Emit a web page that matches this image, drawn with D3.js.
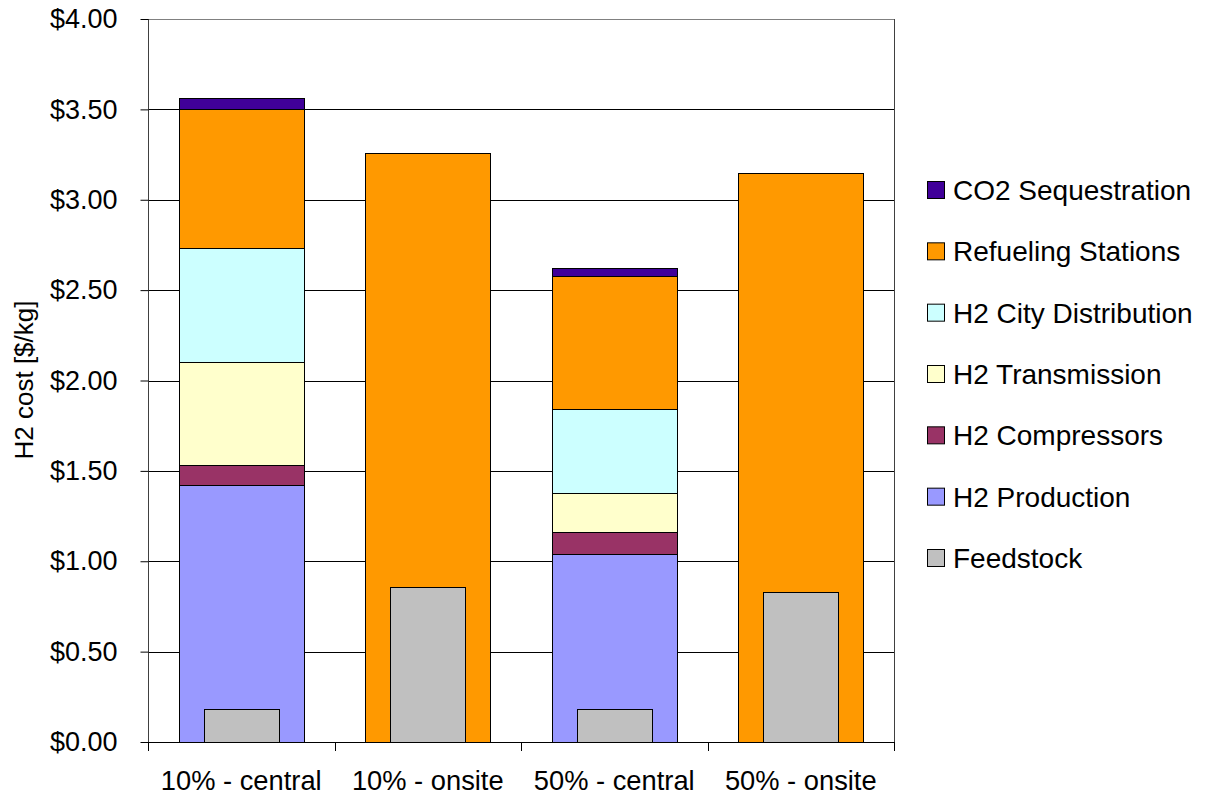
<!DOCTYPE html>
<html>
<head>
<meta charset="utf-8">
<script src="https://cdn.jsdelivr.net/npm/d3@7"></script>
<style>
  html, body { margin: 0; padding: 0; background: #fff; }
  svg { display: block; }
  text { font-family: "Liberation Sans", Arial, sans-serif; fill: #000; }
</style>
</head>
<body>
<svg id="chart" width="1209" height="797"></svg>
<script>
// ---- data ----
const categories = ["10% - central", "10% - onsite", "50% - central", "50% - onsite"];
const seriesNames = ["H2 Production", "H2 Compressors", "H2 Transmission", "H2 City Distribution", "Refueling Stations", "CO2 Sequestration"];
const h2Production      = [1.42, 0, 1.04, 0];
const h2Compressors     = [0.11, 0, 0.12, 0];
const h2Transmission    = [0.57, 0, 0.22, 0];
const h2CityDistribution= [0.635, 0, 0.46, 0];
const refuelingStations = [0.765, 3.258, 0.74, 3.147];
const co2Sequestration  = [0.065, 0, 0.045, 0];
const feedstock         = [0.18, 0.86, 0.18, 0.83];
const yTicks = [0, 0.5, 1, 1.5, 2, 2.5, 3, 3.5, 4];
const legendOrder = ["CO2 Sequestration", "Refueling Stations", "H2 City Distribution", "H2 Transmission", "H2 Compressors", "H2 Production", "Feedstock"];

const colors = {
  "H2 Production": "#9999FF",
  "H2 Compressors": "#993366",
  "H2 Transmission": "#FFFFCC",
  "H2 City Distribution": "#CCFFFF",
  "Refueling Stations": "#FF9900",
  "CO2 Sequestration": "#400099",
  "Feedstock": "#C0C0C0"
};

const seriesValues = [h2Production, h2Compressors, h2Transmission, h2CityDistribution, refuelingStations, co2Sequestration];
const table = categories.map((c, i) => {
  const row = { category: c };
  seriesNames.forEach((s, k) => row[s] = seriesValues[k][i]);
  row["Feedstock"] = feedstock[i];
  return row;
});

// ---- layout ----
const pLeft = 148, pRight = 894, pTop = 19, pBottom = 742;
const svg = d3.select("#chart");

const y = d3.scaleLinear().domain([0, 4]).range([pBottom, pTop]);
const xOuter = d3.scaleBand().domain(categories).range([pLeft, pRight]).padding(0);
const xBar = d3.scaleBand().domain(categories).range([pLeft, pRight]).paddingInner(0.33).paddingOuter(0.165);

// gridlines
svg.append("g").selectAll("line").data(yTicks.filter(d => d > 0)).join("line")
  .attr("x1", pLeft).attr("x2", pRight)
  .attr("y1", d => Math.round(y(d)) + 0.5).attr("y2", d => Math.round(y(d)) + 0.5)
  .attr("stroke", d => d === 4 ? "#808080" : "#000").attr("stroke-width", 1);

// right border
svg.append("line").attr("x1", pRight + 0.5).attr("x2", pRight + 0.5)
  .attr("y1", pTop).attr("y2", pBottom).attr("stroke", "#404040");

// stacked bars
const stack = d3.stack().keys(seriesNames);
const stacked = stack(table);
const barG = svg.append("g");
stacked.forEach(layer => {
  barG.append("g").selectAll("rect")
    .data(layer.filter(d => d[1] - d[0] > 0))
    .join("rect")
    .attr("x", d => Math.round(xBar(d.data.category)) + 0.5)
    .attr("width", Math.round(xBar.bandwidth()))
    .attr("y", d => Math.round(y(d[1])) + 0.5)
    .attr("height", d => Math.round(y(d[0])) - Math.round(y(d[1])))
    .attr("fill", colors[layer.key])
    .attr("stroke", "#000").attr("stroke-width", 1);
});

// feedstock overlay (narrow)
const fw = xBar.bandwidth() * 0.6;
barG.append("g").selectAll("rect").data(table).join("rect")
  .attr("x", d => Math.round(xOuter(d.category) + xOuter.bandwidth() / 2 - fw / 2) + 0.5)
  .attr("width", Math.round(fw))
  .attr("y", d => Math.round(y(d["Feedstock"])) + 0.5)
  .attr("height", d => Math.round(y(0)) - Math.round(y(d["Feedstock"])))
  .attr("fill", colors["Feedstock"])
  .attr("stroke", "#000").attr("stroke-width", 1);

// y axis
const yAxis = d3.axisLeft(y).tickValues(yTicks).tickSize(8).tickPadding(23)
  .tickFormat(d3.format("$.2f"));
const yg = svg.append("g").attr("transform", `translate(${pLeft + 0.5},0)`).call(yAxis);
yg.select(".domain").attr("stroke", "#404040").attr("d", `M0,${pTop}V${pBottom}`);
yg.selectAll(".tick line").attr("stroke", "#000");
yg.selectAll(".tick text").attr("font-size", 27).attr("fill", "#000")
  .style("font-family", '"Liberation Sans", Arial, sans-serif');

// x axis baseline and ticks at band boundaries
svg.append("line").attr("x1", pLeft).attr("x2", pRight + 1)
  .attr("y1", pBottom + 0.5).attr("y2", pBottom + 0.5).attr("stroke", "#000");
const boundaries = categories.map(c => xOuter(c)).concat([xOuter(categories[categories.length - 1]) + xOuter.bandwidth()]);
svg.append("g").selectAll("line").data(boundaries).join("line")
  .attr("x1", d => Math.round(d) + 0.5).attr("x2", d => Math.round(d) + 0.5)
  .attr("y1", pBottom).attr("y2", pBottom + 9).attr("stroke", "#000");

// category labels
svg.append("g").selectAll("text").data(categories).join("text")
  .attr("x", d => xOuter(d) + xOuter.bandwidth() / 2)
  .attr("y", 790)
  .attr("text-anchor", "middle")
  .attr("font-size", 27.3)
  .text(d => d);

// y axis title
svg.append("text")
  .attr("transform", "translate(33,380) rotate(-90)")
  .attr("text-anchor", "middle")
  .attr("font-size", 26)
  .text("H2 cost [$/kg]");

// legend
const lg = svg.append("g");
const legendY = d3.scalePoint().domain(legendOrder).range([190, 558]);
const items = lg.selectAll("g").data(legendOrder).join("g")
  .attr("transform", d => `translate(927,${legendY(d)})`);
items.append("rect").attr("x", 0.5).attr("y", -8.5).attr("width", 17).attr("height", 17)
  .attr("fill", d => colors[d]).attr("stroke", "#000");
items.append("text").attr("x", 26).attr("y", 10).attr("font-size", 28).text(d => d);
</script>
</body>
</html>
